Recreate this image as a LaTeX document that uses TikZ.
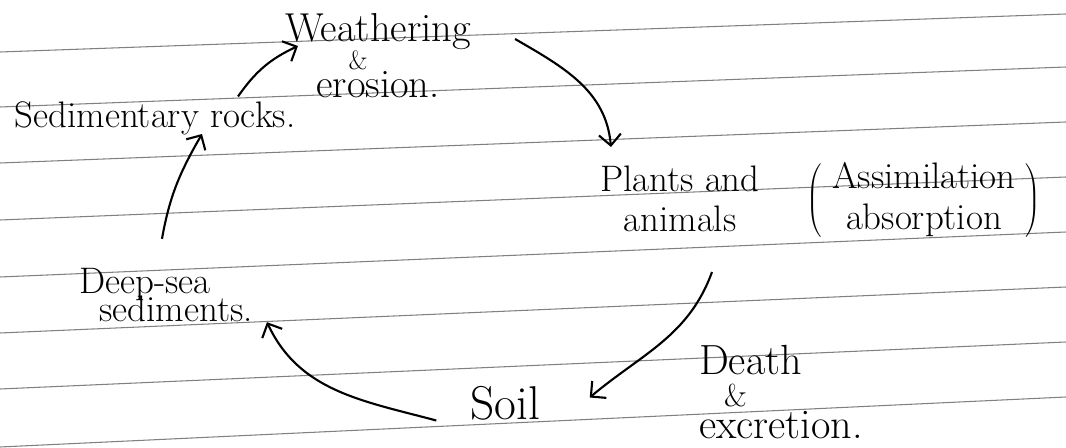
\documentclass[tikz,border=0pt]{standalone}
\usetikzlibrary{arrows.meta}
\tikzset{
  hand/.style={inner sep=0pt, font=\fontsize{21}{23}\selectfont},
  arr/.style={line width=1.2pt, -{Straight Barb[length=2.2mm,width=4.4mm]}},
  rule/.style={black!50, line width=0.6pt}
}
\begin{document}
\begin{tikzpicture}[x=0.2mm,y=0.2mm]
\useasboundingbox (0,0) rectangle (1066,448);
% ruled paper
\foreach \a/\b in {396/434,341/381,285/326,228/271,171/216,115/161,59/106,1/51}
  \draw[rule] (0,\a) -- (1066,\b);

\node[hand, align=center, font=\fontsize{23}{25}\selectfont] (weather) at (378,392) {Weathering\\[-9pt]\hspace*{-8mm}{\fontsize{15}{15}\selectfont\&}\\[-9pt]erosion.};
\node[hand] (sed) at (155,330) {Sedimentary rocks.};
\node[hand, align=center] (plants) at (680,249) {Plants and\\animals};
\node[hand] (assim) at (924,247) {$\left(\;\begin{tabular}{@{}c@{}}Assimilation\\absorption\end{tabular}\;\right)$};
\node[hand, align=left] (deep) at (166,153) {Deep-sea\\[-7pt]\hspace*{4mm}sediments.};
\node[hand, font=\fontsize{27}{30}\selectfont] (soil) at (505,45) {Soil};
\node[hand, align=left, font=\fontsize{24}{26}\selectfont] (death) at (781,56) {Death\\[-8pt]\hspace*{5mm}{\fontsize{18}{18}\selectfont\&}\\[-8pt]excretion.};

\draw[arr] ([xshift=16.6mm,yshift=0.9mm]sed.north) to[bend left=15] ([xshift=2.6mm,yshift=2mm]weather.west);
\draw[arr] ([xshift=8.8mm,yshift=3.4mm]weather.east) to[out=-30,in=95] ([xshift=2.2mm,yshift=3.7mm]plants.north west);
\draw[arr] ([xshift=6.4mm,yshift=-7.9mm]plants.south) to[out=-110,in=40] ([xshift=9.9mm,yshift=1.1mm]soil.east);
\draw[arr] ([xshift=-6.7mm,yshift=-3.5mm]soil.west) to[out=165,in=-65] ([xshift=2.8mm]deep.south east);
\draw[arr] ([xshift=-0.8mm,yshift=5.8mm]deep.north) to[out=80,in=-120] ([xshift=9.4mm,yshift=0.2mm]sed.south);
\end{tikzpicture}
\end{document}
